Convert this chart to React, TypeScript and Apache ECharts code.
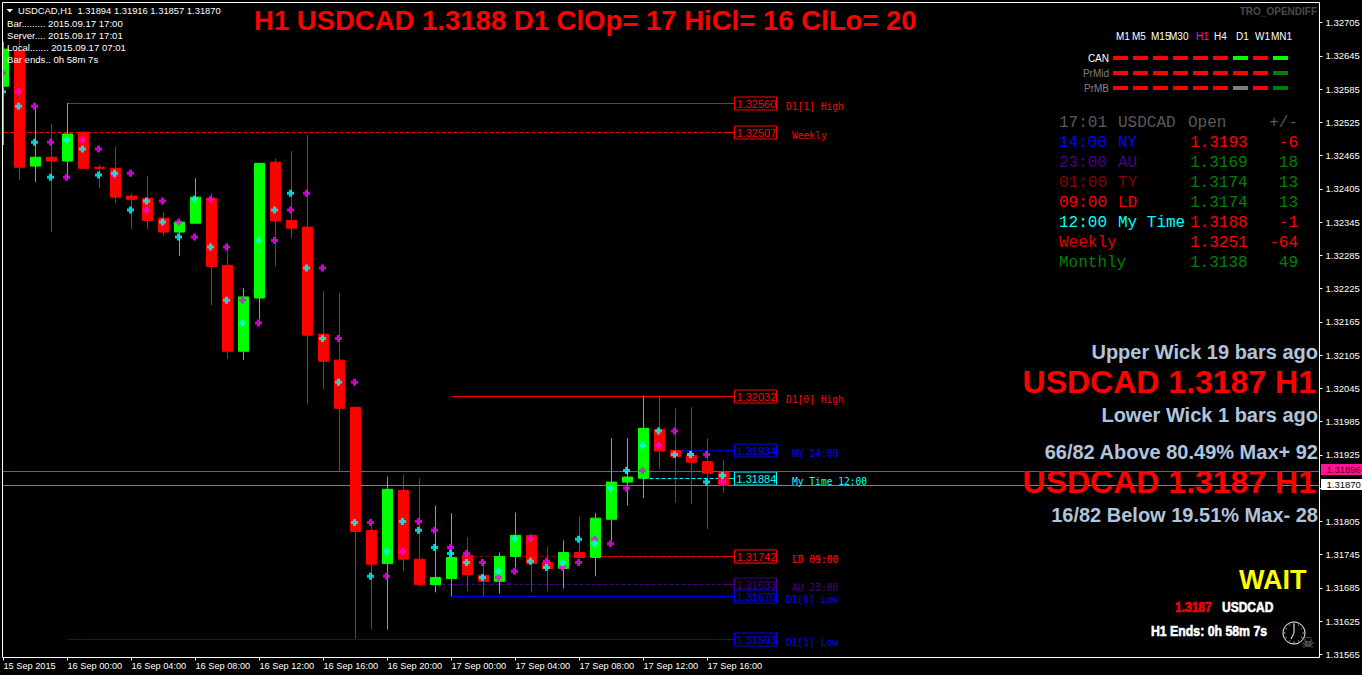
import React, { useEffect, useRef } from "react";
import * as echarts from "echarts";

const barTimes = [
  "15 Sep 2015","15 Sep 21:00","15 Sep 22:00","15 Sep 23:00",
  "16 Sep 00:00","16 Sep 01:00","16 Sep 02:00","16 Sep 03:00",
  "16 Sep 04:00","16 Sep 05:00","16 Sep 06:00","16 Sep 07:00",
  "16 Sep 08:00","16 Sep 09:00","16 Sep 10:00","16 Sep 11:00",
  "16 Sep 12:00","16 Sep 13:00","16 Sep 14:00","16 Sep 15:00",
  "16 Sep 16:00","16 Sep 17:00","16 Sep 18:00","16 Sep 19:00",
  "16 Sep 20:00","16 Sep 21:00","16 Sep 22:00","16 Sep 23:00",
  "17 Sep 00:00","17 Sep 01:00","17 Sep 02:00","17 Sep 03:00",
  "17 Sep 04:00","17 Sep 05:00","17 Sep 06:00","17 Sep 07:00",
  "17 Sep 08:00","17 Sep 09:00","17 Sep 10:00","17 Sep 11:00",
  "17 Sep 12:00","17 Sep 13:00","17 Sep 14:00","17 Sep 15:00",
  "17 Sep 16:00","17 Sep 17:00",
];
const opens = [
  1.3259,1.32655,1.32446,1.32462,1.32455,1.32507,1.32444,1.32442,1.32392,1.32388,
  1.32352,1.32327,1.32343,1.32388,1.32267,1.32112,1.32208,1.32453,1.32348,1.32336,
  1.32143,1.32096,1.32011,1.31789,1.31729,1.31861,1.31737,1.31691,1.31702,1.31744,
  1.31708,1.31697,1.31742,1.3178,1.31731,1.3172,1.31749,1.3174,1.31809,1.31876,
  1.31883,1.31971,1.31933,1.31924,1.31913,1.31894,
];
const closes = [
  1.32657,1.32444,1.32462,1.32455,1.32504,1.32442,1.32442,1.3239,1.32386,1.32348,
  1.32327,1.32345,1.3239,1.32265,1.32112,1.3221,1.32451,1.32347,1.32334,1.32141,
  1.32094,1.32009,1.31787,1.31728,1.31863,1.31737,1.31691,1.31704,1.3174,1.31709,
  1.31697,1.31742,1.3178,1.31729,1.3172,1.31749,1.3174,1.31811,1.31876,1.31885,
  1.31973,1.31932,1.31922,1.31912,1.31892,1.3187,
];
const lows = [
  1.32484,1.32421,1.32417,1.32327,1.32424,1.32441,1.32406,1.32379,1.32332,1.32332,
  1.3232,1.32284,1.32343,1.32195,1.32098,1.32096,1.3217,1.32265,1.32316,1.32016,
  1.32043,1.31894,1.31594,1.3161,1.3161,1.31715,1.31688,1.31677,1.3167,1.31679,
  1.3167,1.31675,1.31722,1.31677,1.31679,1.31684,1.31738,1.31706,1.31771,1.31834,
  1.31847,1.31899,1.31839,1.31836,1.31791,1.31857,
];
const highs = [
  1.3267,1.32681,1.32554,1.32522,1.3256,1.32509,1.32448,1.32482,1.32397,1.32428,
  1.32363,1.32348,1.32424,1.32397,1.32307,1.32226,1.32451,1.3246,1.32473,1.32502,
  1.3222,1.32217,1.32011,1.31798,1.31886,1.3189,1.31883,1.31834,1.3182,1.31776,
  1.31735,1.31749,1.31821,1.31782,1.3176,1.31771,1.31814,1.3182,1.31955,1.31955,
  1.32032,1.32032,1.32009,1.32011,1.31955,1.31916,
];
const cyanDots = [
  1.3258,1.32554,1.32489,1.32426,1.32493,1.32477,1.3243,1.32433,1.32367,1.32383,
  1.32345,1.32318,1.32386,1.323,1.32204,1.32163,1.32312,1.32367,1.32397,1.32262,
  1.32135,1.32056,1.31803,1.31706,1.31751,1.31805,1.31789,1.31758,1.31747,1.31731,
  1.31704,1.31715,1.31774,1.31733,1.31722,1.31731,1.31773,1.31765,1.31865,1.31897,
  1.31942,1.31968,1.31926,1.31926,1.31876,1.31888,
];
const magentaDots = [
  1.32614,1.3258,1.32554,1.32489,1.32426,1.32493,1.32477,1.3243,1.32433,1.32367,
  1.32383,1.32345,1.32318,1.32386,1.323,1.32204,1.32163,1.32312,1.32367,1.32397,
  1.32262,1.32135,1.32056,1.31803,1.31706,1.31751,1.31805,1.31789,1.31758,1.31747,
  1.31731,1.31704,1.31715,1.31774,1.31733,1.31722,1.31731,1.31773,1.31765,1.31865,
  1.31897,1.31942,1.31968,1.31926,1.31926,1.31876,
];
const yTicks = [
  1.31565,1.31625,1.31685,1.31745,1.31805,1.31865,1.31925,1.31985,1.32045,1.32105,
  1.32165,1.32225,1.32285,1.32345,1.32405,1.32465,1.32525,1.32585,1.32645,1.32705,
];
// 1.31865 sits under the white bid tag in the reference, so it has no visible label.
const yLabels = [
  1.31565,1.31625,1.31685,1.31745,1.31805,1.31925,1.31985,1.32045,1.32105,
  1.32165,1.32225,1.32285,1.32345,1.32405,1.32465,1.32525,1.32585,1.32645,1.32705,
];

const levelNames = ["D1[1] High","Weekly","D1[0] High","NY 14:00","My Time 12:00","TY 01:00","LD 09:00","AU 23:00","D1[0] Low","D1[1] Low"];
const levelPrices = [1.3256,1.32507,1.32032,1.31934,1.31884,1.31742,1.31742,1.31693,1.3167,1.31593];
const levelStarts = [4,0,28,42,40,29,37,27,28,4];
const levelColors = ["#ff0000","#ff0000","#ff0000","#0000ff","#00ffff","#8b0000","#ff0000","#4b0082","#0000ff","#0000ff"];
const levelDashed = [false,true,false,true,true,true,true,true,false,false];
const levelNameShift = [0,6,0,6,6,6,6,6,0,0];

const quotePrices = [1.31896,1.3187];
const quoteColors = ["#ff1493","#808080"];
const quoteTagFills = ["#ff1493","#ffffff"];
const quoteTagInk = ["#5a0030","#000000"];
const quoteTagShift = [-2,-1];

const infoLines = ["Bar......... 2015.09.17 17:00","Server.... 2015.09.17 17:01","Local....... 2015.09.17 07:01","Bar ends.. 0h 58m 7s"];
const tfNames = ["M1","M5","M15","M30","H1","H4","D1","W1","MN1"];
const tfRows = ["CAN","PrMid","PrMB"];
const R = "#ff0000", L = "#00ff00", G = "#008000", S = "#808080";
const tfStates = [
  [R,R,R,R,R,R,L,R,L],
  [R,R,R,R,R,R,R,R,G],
  [R,R,R,R,R,R,S,R,G],
];
const openRows = [
  ["14:00","NY","1.3193","-6","#0000ff",R],
  ["23:00","AU","1.3169","18","#4b0082",G],
  ["01:00","TY","1.3174","13","#8b0000",G],
  ["09:00","LD","1.3174","13","#ff0000",G],
  ["12:00","My Time","1.3188","-1","#00ffff",R],
  ["Weekly","","1.3251","-64","#e00000",R],
  ["Monthly","","1.3138","49","#008000",G],
];

const SANS = '"Liberation Sans", Arial, sans-serif';
const MONO = '"Liberation Mono", "Courier New", monospace';
const PLUS = "path://M2,0H5V2H7V5H5V7H2V5H0V2H2Z";

function txt(x: number, y: number, text: string, font: string, fill: string, align = "left", extra: any = {}, styleExtra: any = {}) {
  return { type: "text", z: 20, x, y, ...extra, style: { text, font, fill, align, verticalAlign: "middle", ...styleExtra } };
}

function buildGraphic() {
  const g: any[] = [];
  g.push({ type: "rect", z: 18, shape: { x: 0, y: 0, width: 2, height: 675 }, style: { fill: "#000" } });
  g.push({ type: "rect", z: 19, shape: { x: 2.5, y: 2.5, width: 1317, height: 655 }, style: { fill: "none", stroke: "#fff", lineWidth: 1 } });
  g.push({ type: "polygon", z: 20, shape: { points: [[6.5, 9], [13, 9], [9.75, 12.5]] }, style: { fill: "#fff" } });
  g.push(txt(18, 10.5, "USDCAD,H1  1.31894 1.31916 1.31857 1.31870", `9.4px ${SANS}`, "#fff"));
  infoLines.forEach((t, i) => g.push(txt(7, 23.5 + i * 12.1, t, `9.6px ${SANS}`, "#fff")));
  g.push(txt(254, 20, "H1 USDCAD 1.3188 D1 ClOp= 17 HiCl= 16 ClLo= 20", `bold 27.5px ${SANS}`, "#ff0000"));
  g.push(txt(1317, 11, "TRO_OPENDIFF", `bold 10px ${SANS}`, "#4a4a4a", "right"));

  const tfX = [1116, 1132, 1151, 1169, 1196, 1214, 1236, 1255, 1271];
  tfNames.forEach((t, i) => g.push(txt(tfX[i], 36.5, t, `10px ${SANS}`, t === "H1" ? "#ff00ff" : "#fff")));
  tfRows.forEach((t, r) => {
    const y = 58 + r * 15;
    g.push(txt(1109, y, t, `10px ${SANS}`, r === 0 ? "#fff" : "#808080", "right"));
    tfStates[r].forEach((c, i) => {
      g.push({ type: "rect", z: 20, shape: { x: 1113 + i * 20, y: y - 2, width: 15, height: 4 }, style: { fill: c } });
    });
  });

  const head = "#5a5a5a";
  g.push(txt(1059, 122.7, "17:01", `16px ${MONO}`, head));
  g.push(txt(1118, 122.7, "USDCAD", `16px ${MONO}`, head));
  g.push(txt(1188, 122.7, "Open", `16px ${MONO}`, head));
  g.push(txt(1298, 122.7, "+/-", `16px ${MONO}`, head, "right"));
  openRows.forEach((r, i) => {
    const y = 142.7 + i * 20;
    g.push(txt(1059, y, r[0], `16px ${MONO}`, r[4]));
    if (r[1]) g.push(txt(1118, y, r[1], `16px ${MONO}`, r[4]));
    g.push(txt(1190, y, r[2], `16px ${MONO}`, r[5]));
    g.push(txt(1298, y, r[3], `16px ${MONO}`, r[5], "right"));
  });

  const steel = "#b0c4de";
  g.push(txt(1318, 352, "Upper Wick 19 bars ago", `bold 20px ${SANS}`, steel, "right"));
  g.push(txt(1316, 382, "USDCAD 1.3187 H1", `bold 32px ${SANS}`, "#ff0000", "right"));
  g.push(txt(1318, 415, "Lower Wick 1 bars ago", `bold 20px ${SANS}`, steel, "right"));
  g.push(txt(1318, 452, "66/82 Above 80.49% Max+ 92", `bold 20px ${SANS}`, steel, "right"));
  g.push(txt(1316, 482, "USDCAD 1.3187 H1", `bold 32px ${SANS}`, "#ff0000", "right"));
  g.push(txt(1318, 515, "16/82 Below 19.51% Max- 28", `bold 20px ${SANS}`, steel, "right"));
  g.push(txt(1239, 580, "WAIT", `bold 27px ${SANS}`, "#ffff00"));
  const heavy = (c: string) => ({ stroke: c, lineWidth: 0.6 });
  g.push(txt(1175, 607, "1.3187", `bold 15px ${SANS}`, "#ff0000", "left", { scaleX: 0.8 }, heavy("#ff0000")));
  g.push(txt(1222, 607, "USDCAD", `bold 15px ${SANS}`, "#fff", "left", { scaleX: 0.8 }, heavy("#fff")));
  g.push(txt(1151, 631, "H1 Ends: 0h 58m 7s", `bold 15px ${SANS}`, "#fff", "left", { scaleX: 0.82 }, heavy("#fff")));

  const cx = 1294, cy = 633;
  g.push({ type: "circle", z: 20, shape: { cx, cy, r: 11 }, style: { fill: "none", stroke: "#fff", lineWidth: 1 } });
  for (let h = 0; h < 12; h++) {
    const a = (h * Math.PI) / 6;
    g.push({ type: "line", z: 20, shape: { x1: cx + Math.sin(a) * 8.5, y1: cy - Math.cos(a) * 8.5, x2: cx + Math.sin(a) * 10, y2: cy - Math.cos(a) * 10 }, style: { stroke: "#bbb", lineWidth: 1 } });
  }
  g.push({ type: "line", z: 20, shape: { x1: cx, y1: cy, x2: cx, y2: cy - 9 }, style: { stroke: "#fff", lineWidth: 1 } });
  g.push({ type: "line", z: 20, shape: { x1: cx, y1: cy, x2: cx - 3, y2: cy + 6 }, style: { stroke: "#fff", lineWidth: 1 } });
  g.push(txt(1308, 643, "\u2620", `15px "DejaVu Sans"`, "#808080", "center"));
  return g;
}

function renderLevel(params: any, api: any) {
  const i = params.dataIndex;
  const p = api.coord([api.value(0), api.value(1)]);
  const endPt = api.coord([45, api.value(1)]);
  const y = Math.round(p[1]) + 0.5;
  const c = levelColors[i];
  const boxX = Math.round(endPt[0] + 10.5) + 0.5;
  return {
    type: "group",
    children: [
      { type: "line", shape: { x1: p[0], y1: y, x2: endPt[0], y2: y }, style: { stroke: c, lineWidth: 1, lineDash: levelDashed[i] ? [4, 2] : null } },
      { type: "line", shape: { x1: endPt[0], y1: y, x2: boxX, y2: y }, style: { stroke: c, lineWidth: 1 } },
      { type: "rect", shape: { x: boxX, y: y - 6.5, width: 42, height: 13 }, style: { fill: "#000", stroke: c, lineWidth: 1 } },
      { type: "text", style: { x: boxX + 2, y: y + 0.5, text: levelPrices[i].toFixed(5), font: `11px ${SANS}`, fill: c, align: "left", verticalAlign: "middle" } },
      { type: "text", style: { x: boxX + 51.5 + levelNameShift[i], y: y + 3, text: levelNames[i], font: `9.6px "DejaVu Sans Mono"`, fill: c, align: "left", verticalAlign: "middle" } },
    ],
  };
}

function renderQuote(params: any, api: any) {
  const i = params.dataIndex;
  const p = api.coord([0, api.value(1)]);
  const y = Math.round(p[1]) + 0.5;
  const right = params.coordSys.x + params.coordSys.width - 4;
  const tagY = y + quoteTagShift[i];
  return {
    type: "group",
    children: [
      { type: "line", shape: { x1: params.coordSys.x + 7, y1: y, x2: right, y2: y }, style: { stroke: quoteColors[i], lineWidth: 1 } },
      { type: "rect", shape: { x: right + 1.5, y: tagY - 5.5, width: 42, height: 11 }, style: { fill: quoteTagFills[i] } },
      { type: "text", style: { x: right + 7, y: tagY, text: quotePrices[i].toFixed(5), font: `9.5px ${SANS}`, fill: quoteTagInk[i], align: "left", verticalAlign: "middle" } },
    ],
  };
}

const GAP = 37;

export default function App() {
  const ref = useRef<HTMLDivElement>(null);
  useEffect(() => {
    document.body.style.margin = "0";
    document.body.style.background = "#000";
    const chart = echarts.init(ref.current!, undefined, { renderer: "svg" });
    const categories = [...barTimes, ...Array(GAP).fill("")];
    const showTick = (i: number) => i % 4 === 0 && i <= 44;
    chart.setOption({
      animation: false,
      backgroundColor: "#000",
      grid: { left: -4.5, top: 2.5, width: 1328, height: 655, outerBoundsMode: "none", containLabel: false },
      xAxis: {
        type: "category",
        data: categories,
        boundaryGap: true,
        axisLine: { show: false },
        axisTick: { show: true, alignWithLabel: true, interval: showTick, length: 3, lineStyle: { color: "#fff" } },
        axisLabel: { show: true, interval: showTick, align: "left", margin: 4, color: "#fff", fontSize: 9.2, fontFamily: SANS, hideOverlap: false },
        splitLine: { show: false },
      },
      yAxis: {
        type: "value",
        position: "right",
        offset: -4,
        min: 1.315596,
        max: 1.327411,
        scale: true,
        axisLine: { show: false },
        axisTick: { show: true, length: 3, customValues: yTicks, lineStyle: { color: "#fff" } },
        axisLabel: { show: true, margin: 6, customValues: yLabels, color: "#fff", fontSize: 9.5, fontFamily: SANS, formatter: (v: number) => v.toFixed(5) },
        splitLine: { show: false },
      },
      series: [
        { type: "custom", name: "levels", z: 1, renderItem: renderLevel, data: levelPrices.map((v, i) => [levelStarts[i], v]), encode: { x: 0, y: 1 } },
        { type: "custom", name: "quotes", z: 1, renderItem: renderQuote, data: quotePrices.map((v) => [0, v]), encode: { x: 0, y: 1 } },
        {
          type: "candlestick",
          name: "USDCAD,H1",
          z: 2,
          barWidth: 10,
          data: opens.map((o, i) => [o, closes[i], lows[i], highs[i]]),
          itemStyle: { color: "#00ff00", color0: "#ff0000", borderColor: "#00ff00", borderColor0: "#ff0000", borderWidth: 1 },
        },
        { type: "scatter", name: "prev", z: 3, symbol: PLUS, symbolSize: 7, symbolOffset: [-1, 0], data: magentaDots.map((v, i) => [i, v]), itemStyle: { color: "#ff00ff" } },
        { type: "scatter", name: "open", z: 4, symbol: PLUS, symbolSize: 7, symbolOffset: [-1, 0], data: cyanDots.map((v, i) => [i, v]), itemStyle: { color: "#00ffff" } },
      ],
      graphic: { elements: buildGraphic() },
    });
    return () => chart.dispose();
  }, []);
  return <div ref={ref} style={{ position: "absolute", left: 0, top: 0, width: 1362, height: 675 }} />;
}
